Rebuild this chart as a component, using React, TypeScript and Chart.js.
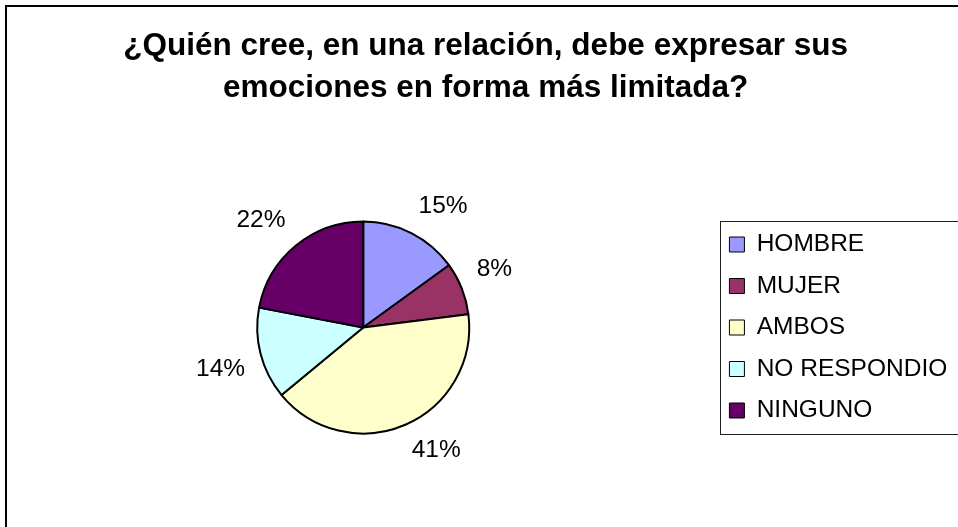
import React, { useEffect, useRef } from "react";
import { Chart, registerables } from "chart.js";

Chart.register(...registerables);

// ---- data ----
const TITLE_LINES = [
  "¿Quién cree, en una relación, debe expresar sus",
  "emociones en forma más limitada?",
];
const CATEGORIES = ["HOMBRE", "MUJER", "AMBOS", "NO RESPONDIO", "NINGUNO"];
const PERCENTAGES = [15, 8, 41, 14, 22];
const COLORS = ["#9999FF", "#993366", "#FFFFCC", "#CCFFFF", "#660066"];

// ---- styling ----
const FONT = "'Liberation Sans', Arial, Helvetica, sans-serif";
const CANVAS_W = 972;
const CANVAS_H = 527;
const LEGEND_PAD = 17;
const LEGEND_SIZE = 24.5;
const LABEL_SIZE = 24.5;
const LABEL_GAP = 15;
const LABEL_HALF_H = 12;

const framePlugin = {
  id: "frame",
  beforeDraw(chart: any) {
    const ctx = chart.ctx;
    ctx.save();
    ctx.fillStyle = "#ffffff";
    ctx.fillRect(0, 0, chart.width, chart.height);
    ctx.strokeStyle = "#000000";
    ctx.lineWidth = 2;
    ctx.strokeRect(6, 6, chart.width + 40, chart.height + 40);
    ctx.restore();
  },
  afterDraw(chart: any) {
    const lg = chart.legend;
    if (!lg || !lg.columnSizes || !lg.columnSizes.length) return;
    const ctx = chart.ctx;
    const colH = lg.columnSizes[0].height;
    const itemsTop = (lg.top + LEGEND_PAD + lg.bottom - colH) / 2;
    const top = Math.round(itemsTop - 11);
    const bottom = Math.round(itemsTop + colH - LEGEND_PAD + 11.5);
    const left = Math.round(lg.left + LEGEND_PAD - 9);
    ctx.save();
    ctx.strokeStyle = "#222222";
    ctx.lineWidth = 1;
    ctx.strokeRect(left + 0.5, top + 0.5, chart.width, bottom - top);
    ctx.restore();
  },
};

const pieLabelsPlugin = {
  id: "pieLabels",
  afterDatasetsDraw(chart: any) {
    const ctx = chart.ctx;
    const meta = chart.getDatasetMeta(0);
    const data = chart.data.datasets[0].data as number[];
    const total = data.reduce((a, b) => a + b, 0);
    const capH = LABEL_SIZE * 0.716;
    ctx.save();
    ctx.font = `${LABEL_SIZE}px ${FONT}`;
    ctx.fillStyle = "#000000";
    ctx.textAlign = "center";
    ctx.textBaseline = "alphabetic";
    meta.data.forEach((arc: any, i: number) => {
      const p = arc.getProps(["x", "y", "startAngle", "endAngle", "outerRadius"], true);
      const mid = (p.startAngle + p.endAngle) / 2;
      const dx = Math.cos(mid);
      const dy = Math.sin(mid);
      const text = Math.round((data[i] / total) * 100) + "%";
      const w = ctx.measureText(text).width;
      const ra = p.outerRadius + 1 + LABEL_GAP;
      const cx = p.x + dx * ra + Math.sign(dx) * (w / 2);
      const cy = p.y + dy * ra + Math.sign(dy) * LABEL_HALF_H;
      ctx.fillText(text, cx, cy + capH / 2 - 3);
    });
    ctx.restore();
  },
};

export default function App() {
  const canvasRef = useRef<HTMLCanvasElement | null>(null);

  useEffect(() => {
    if (!canvasRef.current) return;
    const defaultGen = (Chart as any).overrides.pie.plugins.legend.labels.generateLabels;
    const chart = new Chart(canvasRef.current, {
      type: "pie",
      data: {
        labels: CATEGORIES,
        datasets: [
          {
            data: PERCENTAGES,
            backgroundColor: COLORS,
            borderColor: "#000000",
            borderWidth: 2,
            radius: 106,
            hoverOffset: 0,
          } as any,
        ],
      },
      options: {
        responsive: false,
        animation: false,
        devicePixelRatio: 1,
        layout: { padding: { left: 14, right: 14.75, top: 0, bottom: 0 } },
        plugins: {
          title: {
            display: true,
            text: TITLE_LINES,
            color: "#000000",
            font: { family: FONT, size: 31.5, weight: "bold", lineHeight: 42 / 31.5 },
            padding: { top: 25.2, bottom: 18.8 },
          },
          legend: {
            display: true,
            position: "right",
            align: "center",
            fullSize: false,
            labels: {
              boxWidth: 15,
              boxHeight: 15,
              padding: LEGEND_PAD,
              color: "#000000",
              font: { family: FONT, size: LEGEND_SIZE },
              generateLabels: (c: any) =>
                defaultGen(c).map((l: any) => ({ ...l, lineWidth: 1, strokeStyle: "#000000" })),
            },
          },
          tooltip: { enabled: false },
        },
      } as any,
      plugins: [framePlugin, pieLabelsPlugin],
    });
    return () => chart.destroy();
  }, []);

  return (
    <div
      style={{
        position: "fixed",
        left: 0,
        top: 0,
        width: 958,
        height: 527,
        overflow: "hidden",
        background: "#ffffff",
      }}
    >
      <canvas ref={canvasRef} width={CANVAS_W} height={CANVAS_H} style={{ display: "block" }} />
    </div>
  );
}
